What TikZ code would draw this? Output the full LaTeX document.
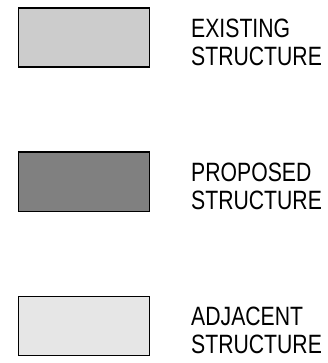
\documentclass[tikz,border=0pt]{standalone}
\usepackage{fontspec}
\newfontfamily\legendfont{Liberation Sans}[FakeStretch=0.8]
\usetikzlibrary{positioning}
\definecolor{existgray}{HTML}{CCCCCC}
\definecolor{propgray}{HTML}{808080}
\definecolor{adjgray}{HTML}{E6E6E6}
\tikzset{legbox/.style={draw,line width=1.5pt,minimum width=131pt,minimum height=59pt,inner sep=0pt},
legtext/.style={align=left,inner sep=0pt,font=\legendfont\fontsize{26.5}{28}\selectfont}}

\begin{document}
\begin{tikzpicture}[node distance=144pt]
\useasboundingbox (0,0) rectangle (327pt,-363pt);
\node[legbox,fill=existgray](ex) at (83.75pt,-37.75pt){};
\node[legbox,fill=propgray,below of=ex](pr){};
\node[legbox,fill=adjgray,below of=pr](ad){};
\node[legtext,right=41pt of ex,yshift=-5pt](extxt){EXISTING\\STRUCTURE};
\node[legtext,right=41pt of pr,yshift=-5pt](prtxt){PROPOSED\\STRUCTURE};
\node[legtext,right=41pt of ad,yshift=-5pt](adtxt){ADJACENT\\STRUCTURE};
\end{tikzpicture}
\end{document}
